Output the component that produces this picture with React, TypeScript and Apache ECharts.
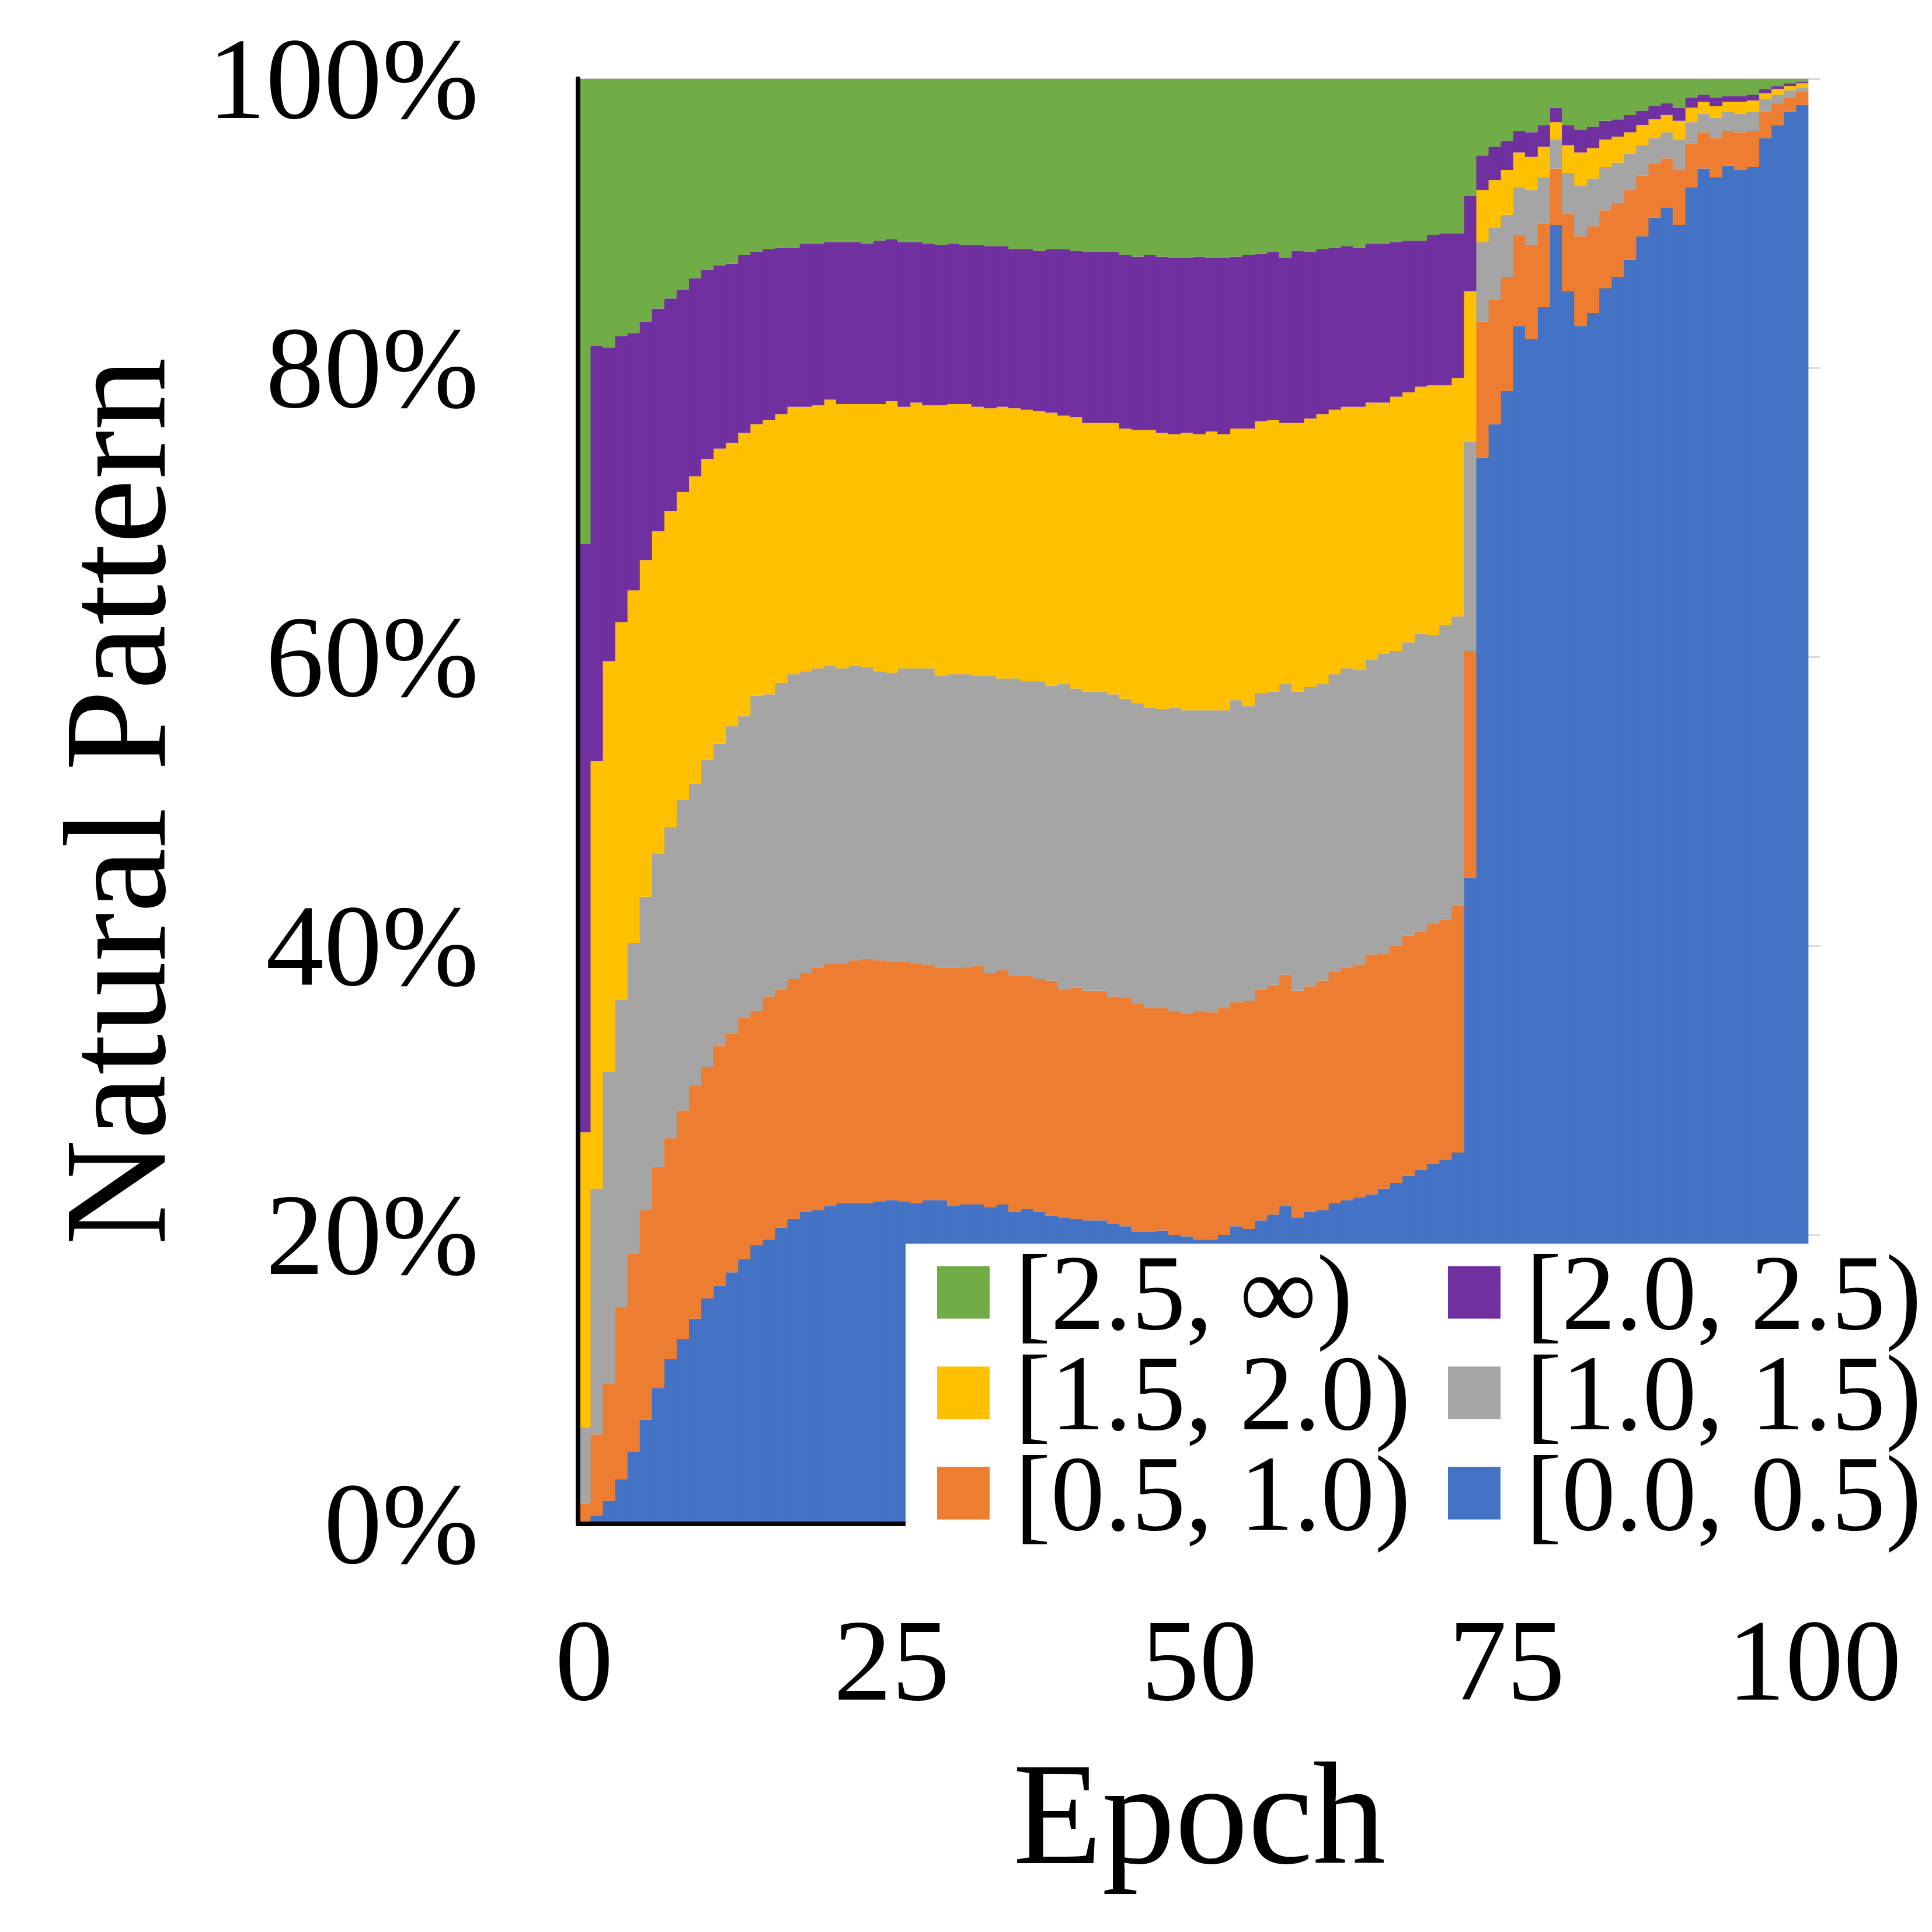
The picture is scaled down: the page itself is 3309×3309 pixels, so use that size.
import React, { useEffect, useRef } from "react";
import * as echarts from "echarts";

// Epoch categories 0..100 (bars occupy 0..99, slot 100 carries the last tick label)
const epochs: string[] = Array.from({ length: 101 }, (_, i) => String(i));

const seriesNames = ["[0.0, 0.5)", "[0.5, 1.0)", "[1.0, 1.5)", "[1.5, 2.0)", "[2.0, 2.5)", "[2.5, ∞)"];
const seriesColors = ["#4472C4", "#ED7D31", "#A5A5A5", "#FFC000", "#7030A0", "#70AD47"];

const legendColumn1 = ["[2.5, ∞)", "[1.5, 2.0)", "[0.5, 1.0)"];
const legendColumn2 = ["[2.0, 2.5)", "[1.0, 1.5)", "[0.0, 0.5)"];

// share (%) of each range per epoch
const share00_05 = [
  0, 0.6, 1.6, 3.1, 5.0, 7.2, 9.4, 11.4, 12.8, 14.2,
  15.6, 16.5, 17.4, 18.3, 19.3, 19.7, 20.5, 21.1, 21.6, 21.7,
  22.0, 22.2, 22.2, 22.2, 22.3, 22.4, 22.3, 22.2, 22.4, 22.4,
  22.0, 22.1, 22.1, 21.9, 22.1, 21.6, 21.8, 21.6, 21.3, 21.2,
  21.1, 21.0, 21.0, 20.8, 20.6, 20.2, 20.2, 20.3, 20.0, 19.9,
  19.7, 19.7, 20.0, 20.6, 20.4, 21.0, 21.4, 22.0, 21.2, 21.6,
  21.7, 22.2, 22.4, 22.6, 22.8, 23.2, 23.6, 24.1, 24.5, 24.9,
  25.2, 25.7, 44.7, 73.8, 76.1, 78.4, 82.9, 82.0, 84.2, 89.9,
  85.3, 82.9, 83.8, 85.5, 86.3, 87.5, 89.1, 90.4, 91.1, 89.9,
  92.5, 93.8, 93.2, 94.0, 93.7, 93.9, 95.9, 96.8, 97.7, 98.2,
];
const share05_10 = [
  1.4, 5.6, 8.1, 11.9, 13.7, 14.5, 15.3, 15.3, 15.8, 16.1,
  16.0, 16.6, 16.5, 16.7, 16.2, 16.8, 16.5, 16.6, 16.5, 16.8,
  16.8, 16.6, 16.8, 16.9, 16.7, 16.5, 16.6, 16.6, 16.3, 16.1,
  16.5, 16.4, 16.5, 16.2, 16.2, 16.3, 16.1, 16.1, 16.3, 15.8,
  16.0, 15.9, 15.9, 15.7, 15.8, 15.8, 15.5, 15.4, 15.5, 15.4,
  15.8, 15.7, 15.7, 15.5, 15.8, 16.0, 15.9, 16.0, 15.7, 15.6,
  15.9, 16.0, 16.1, 16.1, 16.6, 16.3, 16.4, 16.6, 16.5, 16.6,
  16.6, 17.1, 15.7, 9.4, 8.6, 7.9, 6.3, 6.5, 5.8, 3.9,
  5.4, 6.2, 6.0, 5.4, 5.1, 4.8, 4.2, 3.7, 3.4, 3.8,
  3.0, 2.5, 2.7, 2.4, 2.6, 2.5, 1.8, 1.5, 1.0, 0.9,
];
const share10_15 = [
  5.3, 17.0, 21.6, 21.3, 21.5, 21.7, 21.7, 21.5, 21.5, 20.9,
  21.3, 20.9, 21.3, 20.9, 21.8, 20.9, 21.2, 21.1, 20.9, 20.7,
  20.6, 20.4, 20.4, 20.2, 20.0, 20.0, 20.3, 20.4, 20.5, 20.2,
  20.3, 20.3, 20.1, 20.6, 20.2, 20.6, 20.4, 20.6, 20.4, 21.1,
  20.7, 20.7, 20.7, 20.9, 20.7, 20.8, 20.8, 20.7, 21.0, 21.0,
  20.8, 20.9, 20.6, 20.9, 20.4, 20.5, 20.3, 20.1, 20.7, 20.7,
  20.5, 20.6, 20.7, 20.4, 20.4, 20.7, 20.4, 20.3, 20.6, 20.0,
  20.4, 20.0, 14.5, 5.5, 5.0, 4.3, 3.3, 3.8, 3.2, 2.0,
  2.8, 3.5, 3.3, 3.0, 2.8, 2.5, 2.1, 1.8, 1.8, 2.1,
  1.5, 1.3, 1.4, 1.3, 1.3, 1.3, 0.9, 0.6, 0.5, 0.3,
];
const share15_20 = [
  20.4, 29.6, 28.4, 26.1, 24.4, 23.3, 22.3, 21.9, 21.3, 21.3,
  20.8, 20.4, 19.6, 19.6, 18.8, 19.0, 18.6, 18.5, 18.3, 18.2,
  18.4, 18.3, 18.1, 18.2, 18.5, 18.8, 18.1, 18.4, 18.2, 18.7,
  18.7, 18.7, 18.6, 18.5, 18.8, 18.7, 18.8, 18.7, 18.9, 18.6,
  18.8, 18.6, 18.6, 18.8, 18.7, 18.9, 19.2, 19.1, 18.9, 19.2,
  19.1, 19.3, 19.1, 18.8, 19.2, 18.8, 18.8, 18.1, 18.6, 18.6,
  18.7, 18.3, 18.1, 18.2, 17.8, 17.4, 17.6, 17.3, 17.1, 17.3,
  16.6, 16.5, 10.4, 3.6, 3.3, 3.1, 2.4, 2.3, 2.1, 1.2,
  1.9, 2.3, 2.1, 1.9, 1.8, 1.5, 1.4, 1.3, 1.2, 1.3,
  1.0, 0.8, 0.8, 0.7, 0.8, 0.8, 0.4, 0.4, 0.3, 0.3,
];
const share20_25 = [
  40.7, 28.7, 21.7, 19.8, 17.8, 16.5, 15.4, 14.7, 14.0, 13.7,
  13.1, 12.7, 12.4, 12.3, 11.9, 11.8, 11.5, 11.0, 11.3, 11.2,
  10.9, 11.2, 11.2, 11.1, 11.3, 11.2, 11.4, 11.1, 11.2, 11.1,
  11.1, 11.0, 11.2, 11.2, 11.1, 11.0, 11.1, 11.1, 11.3, 11.5,
  11.5, 11.8, 11.8, 11.8, 12.0, 12.0, 12.1, 12.2, 12.2, 12.1,
  12.3, 12.0, 12.2, 11.9, 12.0, 11.6, 11.6, 11.4, 11.9, 11.5,
  11.4, 11.2, 11.1, 11.0, 11.0, 11.0, 10.7, 10.5, 10.1, 10.4,
  10.5, 10.0, 6.6, 2.4, 2.3, 2.0, 1.5, 1.7, 1.5, 1.0,
  1.4, 1.6, 1.5, 1.3, 1.2, 1.2, 1.0, 0.9, 0.8, 0.9,
  0.7, 0.5, 0.6, 0.4, 0.4, 0.4, 0.3, 0.2, 0.2, 0.1,
];
const share25_inf = [
  32.2, 18.5, 18.6, 17.8, 17.6, 16.8, 15.9, 15.2, 14.6, 13.8,
  13.2, 12.9, 12.8, 12.2, 12.0, 11.8, 11.7, 11.7, 11.4, 11.4,
  11.3, 11.3, 11.3, 11.4, 11.2, 11.1, 11.3, 11.3, 11.4, 11.5,
  11.4, 11.5, 11.5, 11.6, 11.6, 11.8, 11.8, 11.9, 11.8, 11.8,
  11.9, 12.0, 12.0, 12.0, 12.2, 12.3, 12.2, 12.3, 12.4, 12.4,
  12.3, 12.4, 12.4, 12.3, 12.2, 12.1, 12.0, 12.4, 11.9, 12.0,
  11.8, 11.7, 11.6, 11.7, 11.4, 11.4, 11.3, 11.2, 11.2, 10.8,
  10.7, 10.7, 8.1, 5.3, 4.7, 4.3, 3.6, 3.7, 3.2, 2.0,
  3.2, 3.5, 3.3, 2.9, 2.8, 2.5, 2.2, 1.9, 1.7, 2.0,
  1.3, 1.1, 1.3, 1.2, 1.2, 1.1, 0.7, 0.5, 0.3, 0.2,
];

const seriesValues = [share00_05, share05_10, share10_15, share15_20, share20_25, share25_inf];

const FONT = '"Liberation Serif", "Times New Roman", Times, serif';

export default function App() {
  const ref = useRef<HTMLDivElement>(null);

  useEffect(() => {
    if (!ref.current) return;
    const chart = echarts.init(ref.current, null, { renderer: "svg" });

    const legendCommon = {
      orient: "vertical",
      top: 2121,
      padding: 0,
      itemWidth: 90,
      itemHeight: 90,
      itemGap: -13,
      icon: "rect",
      selectedMode: false,
      z: 100,
      textStyle: {
        fontFamily: FONT,
        fontSize: 185,
        color: "#000",
        lineHeight: 90,
        padding: [0, 0, 0, 38],
      },
    };

    const option: any = {
      animation: false,
      backgroundColor: "#ffffff",
      grid: { left: 990, right: 191, top: 135, bottom: 699, containLabel: false },
      legend: [
        { ...legendCommon, left: 1605, data: legendColumn1 },
        { ...legendCommon, left: 2480, data: legendColumn2 },
      ],
      graphic: [
        {
          type: "rect",
          x: 1551,
          y: 2130,
          z: 50,
          shape: { x: 0, y: 0, width: 1758, height: 580 },
          style: { fill: "#ffffff" },
          silent: true,
        },
      ],
      xAxis: {
        type: "category",
        data: epochs,
        boundaryGap: true,
        z: 5,
        axisLine: { show: true, onZero: true, lineStyle: { color: "#000", width: 8 } },
        axisTick: { show: false },
        splitLine: { show: false },
        axisLabel: {
          interval: 24,
          margin: 134,
          color: "#000",
          fontFamily: FONT,
          fontSize: 199,
        },
        name: "Epoch",
        nameLocation: "middle",
        nameGap: 371,
        nameTextStyle: { fontFamily: FONT, fontSize: 250, color: "#000" },
      },
      yAxis: [
        {
          type: "value",
          min: 0,
          max: 100,
          interval: 20,
          position: "left",
          z: 5,
          axisLine: { show: true, lineStyle: { color: "#000", width: 8 } },
          axisTick: { show: false },
          splitLine: { show: false },
          axisLabel: {
            formatter: "{value}%",
            margin: 170,
            color: "#000",
            fontFamily: FONT,
            fontSize: 199,
          },
          name: "Natural Pattern",
          nameLocation: "middle",
          nameGap: 668,
          nameRotate: 90,
          nameTextStyle: { fontFamily: FONT, fontSize: 250, color: "#000" },
        },
        {
          type: "value",
          min: 0,
          max: 100,
          interval: 20,
          position: "right",
          z: 0,
          axisLine: { show: false },
          axisTick: { show: false },
          axisLabel: { show: false },
          splitLine: { show: true, lineStyle: { color: "#D9D9D9", width: 3 } },
        },
      ],
      series: seriesNames.map((name, i) => ({
        name,
        type: "bar",
        stack: "share",
        xAxisIndex: 0,
        yAxisIndex: 0,
        barWidth: "104%",
        data: seriesValues[i],
        z: 2,
        emphasis: { disabled: true },
        itemStyle: { color: seriesColors[i] },
      })),
    };

    chart.setOption(option);
    return () => chart.dispose();
  }, []);

  return (
    <div
      ref={ref}
      style={{ position: "absolute", left: 0, top: 0, width: 3309, height: 3309, background: "#fff" }}
    />
  );
}
